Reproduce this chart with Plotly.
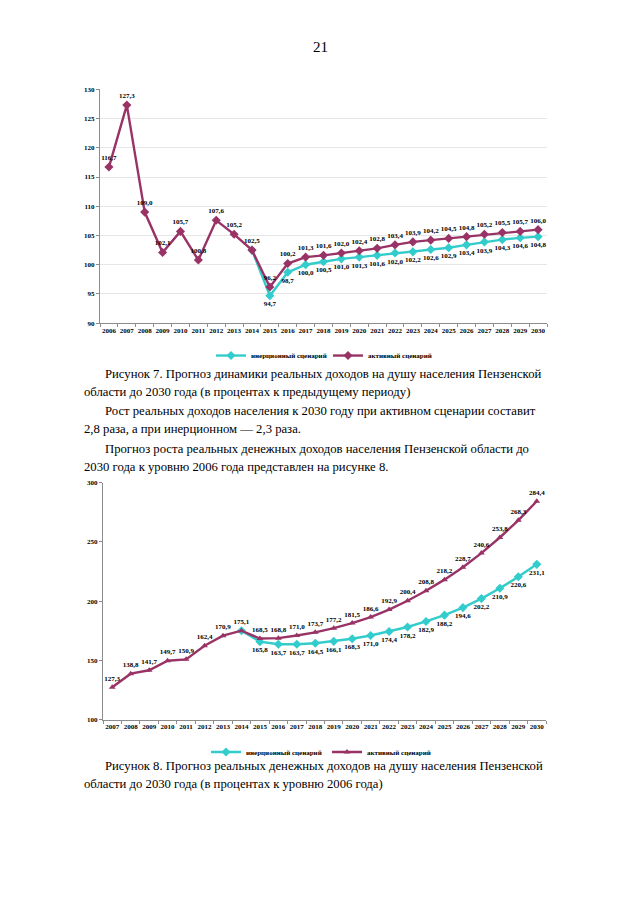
import plotly.graph_objects as go

# ---------- data ----------
years1 = [str(y) for y in range(2006, 2031)]
active1 = [116.7, 127.3, 109.0, 102.1, 105.7, 100.8, 107.6, 105.2, 102.5, 96.2, 100.2,
           101.3, 101.6, 102.0, 102.4, 102.8, 103.4, 103.9, 104.2, 104.5, 104.8,
           105.2, 105.5, 105.7, 106.0]
years1_in = [str(y) for y in range(2014, 2031)]
inert1 = [102.5, 94.7, 98.7, 100.0, 100.5, 101.0, 101.3, 101.6, 102.0, 102.2, 102.6,
          102.9, 103.4, 103.9, 104.3, 104.6, 104.8]

years2 = [str(y) for y in range(2007, 2031)]
active2 = [127.3, 138.8, 141.7, 149.7, 150.9, 162.4, 170.9, 175.1, 168.5, 168.8, 171.0,
           173.7, 177.2, 181.5, 186.6, 192.9, 200.4, 208.8, 218.2, 228.7, 240.6,
           253.8, 268.3, 284.4]
years2_in = [str(y) for y in range(2014, 2031)]
inert2 = [175.1, 165.8, 163.7, 163.7, 164.5, 166.1, 168.3, 171.0, 174.4, 178.2, 182.9,
          188.2, 194.6, 202.2, 210.9, 220.6, 231.1]

name_in = "инерционный сценарий"
name_act = "активный сценарий"

C_ACT = "#993366"
C_IN = "#33CCCC"

OFF = 8  # page body margin
W, H = 640 - OFF, 905 - OFF


def fmt(v):
    return f"{v:.1f}".replace(".", ",")


def lab(vals, skip_first=False):
    t = [fmt(v) for v in vals]
    if skip_first:
        t[0] = ""
    return t


SERIF = "Liberation Serif"
lblfont = dict(family=SERIF, size=7, color="black", weight="bold")

fig = go.Figure()

# chart 1
fig.add_trace(go.Scatter(x=years1_in, y=inert1, name=name_in, mode="lines+markers+text",
                         line=dict(color=C_IN, width=2.4),
                         marker=dict(symbol="diamond", size=7, color=C_IN),
                         text=lab(inert1, True), textposition="bottom center",
                         textfont=lblfont, xaxis="x", yaxis="y", legend="legend"))
fig.add_trace(go.Scatter(x=years1, y=active1, name=name_act, mode="lines+markers+text",
                         line=dict(color=C_ACT, width=2.4),
                         marker=dict(symbol="diamond", size=7, color=C_ACT),
                         text=lab(active1), textposition="top center",
                         textfont=lblfont, xaxis="x", yaxis="y", legend="legend"))
# chart 2
fig.add_trace(go.Scatter(x=years2_in, y=inert2, name=name_in, mode="lines+markers+text",
                         line=dict(color=C_IN, width=2.4),
                         marker=dict(symbol="diamond", size=7, color=C_IN),
                         text=lab(inert2, True), textposition="bottom center",
                         textfont=lblfont, xaxis="x2", yaxis="y2", legend="legend2"))
fig.add_trace(go.Scatter(x=years2, y=active2, name=name_act, mode="lines+markers+text",
                         line=dict(color=C_ACT, width=2.4),
                         marker=dict(symbol="triangle-up", size=6, color=C_ACT),
                         text=lab(active2), textposition="top center",
                         textfont=lblfont, xaxis="x2", yaxis="y2", legend="legend2"))

tickf = dict(family=SERIF, size=7, color="black", weight="bold")
axcol = "#8c8c8c"


def py(sy):
    return 1 - (sy - OFF) / H


def pxx(sx):
    return (sx - OFF) / W


legfont = dict(family=SERIF, size=7, color="black", weight="bold")

fig.update_layout(
    width=W, height=H,
    margin=dict(l=0, r=0, t=0, b=0),
    paper_bgcolor="white", plot_bgcolor="white",
    font=dict(family=SERIF),
    xaxis=dict(domain=[pxx(100), pxx(547)], type="category", range=[-0.5, 24.5],
               categoryorder="array", categoryarray=years1, tickangle=0,
               showline=True, linecolor=axcol, ticks="outside", tickson="boundaries",
               ticklen=3, tickcolor=axcol, tickfont=tickf, showgrid=False,
               anchor="y"),
    yaxis=dict(domain=[py(322), py(86)], range=[90, 130], dtick=5,
               showline=True, linecolor=axcol, ticks="outside", ticklen=3,
               tickcolor=axcol, tickfont=tickf, showgrid=True, gridcolor="#e6e6e6",
               zeroline=False, anchor="x"),
    xaxis2=dict(domain=[pxx(103), pxx(546)], type="category", range=[-0.5, 23.5],
                categoryorder="array", categoryarray=years2, tickangle=0,
                showline=True, linecolor=axcol, ticks="outside", tickson="boundaries",
                ticklen=3, tickcolor=axcol, tickfont=tickf, showgrid=False,
                anchor="y2"),
    yaxis2=dict(domain=[py(722), py(483)], range=[100, 300], dtick=50,
                showline=True, linecolor=axcol, ticks="outside", ticklen=3,
                tickcolor=axcol, tickfont=tickf, showgrid=False,
                zeroline=False, anchor="x2"),
    legend=dict(orientation="h", x=pxx(211), y=py(340), xanchor="left", yanchor="top",
                font=legfont, entrywidth=72, itemwidth=30, bgcolor="rgba(0,0,0,0)"),
    legend2=dict(orientation="h", x=pxx(206), y=py(740), xanchor="left", yanchor="top",
                 font=legfont, entrywidth=76, itemwidth=30, bgcolor="rgba(0,0,0,0)"),
)

# ---------- page text ----------
TF = dict(family=SERIF, size=12.7, color="black")
lines = [
    (320, 43, "21", "center"),
    (103, 373, "Рисунок 7. Прогноз динамики реальных доходов на душу населения Пензенской", "left"),
    (82, 391, "области до 2030 года (в процентах к предыдущему периоду)", "left"),
    (103, 411, "Рост реальных доходов населения к 2030 году при активном сценарии составит", "left"),
    (82, 429, "2,8 раза, а при инерционном — 2,3 раза.", "left"),
    (103, 449, "Прогноз роста реальных денежных доходов населения Пензенской области до", "left"),
    (82, 467, "2030 года к уровню 2006 года представлен на рисунке 8.", "left"),
    (103, 769, "Рисунок 8. Прогноз реальных денежных доходов на душу населения Пензенской", "left"),
    (82, 787, "области до 2030 года (в процентах к уровню 2006 года)", "left"),
]
for x, y, t, al in lines:
    fig.add_annotation(x=pxx(x), y=py(y), xref="paper", yref="paper", text=t,
                       showarrow=False, xanchor=al, yanchor="middle",
                       font=dict(TF, size=15 if t == "21" else TF["size"]))

fig.write_html("out.html")
